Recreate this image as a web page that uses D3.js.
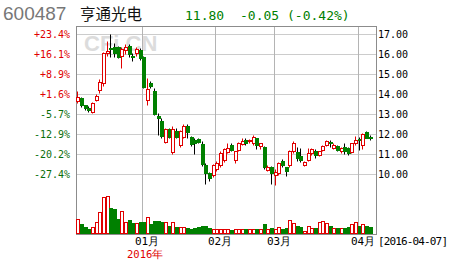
<!DOCTYPE html>
<html>
<head>
<meta charset="utf-8">
<script src="https://cdn.jsdelivr.net/npm/d3@7"></script>
<style>
body { margin: 0; background: #fff; }
text { font-family: "DejaVu Sans Mono", monospace; }
</style>
</head>
<body>
<svg width="455" height="260"></svg>
<script>
// quote header
var stockCode = "600487",
    stockName = "亨通光电",
    lastPrice = "11.80",
    change = "-0.05",
    changePct = "(-0.42%)",
    lastDate = "[2016-04-07]";

// daily candles, 2015-12-08 .. 2016-04-07
var opens = [13.70,13.84,13.46,13.35,13.13,13.75,14.21,14.60,16.05,16.30,
    16.40,16.35,15.92,16.22,16.45,15.92,16.05,16.22,15.90,13.72,
    14.60,14.20,12.95,12.70,11.63,12.28,11.13,12.20,11.46,11.88,
    12.40,11.88,11.72,11.78,11.54,10.50,10.07,9.98,10.30,10.47,
    10.72,11.13,11.50,10.72,11.25,11.52,11.74,11.68,11.55,11.80,
    11.42,11.38,10.25,10.40,9.98,10.05,10.70,10.37,10.47,11.18,
    11.13,10.95,10.47,10.72,11.08,11.20,10.98,11.25,11.47,11.65,
    11.35,11.42,11.18,11.40,11.35,11.13,11.55,11.78,11.48,12.12,11.88];
var highs = [14.20,13.90,13.50,13.45,13.62,14.05,14.79,16.12,16.70,17.04,
    16.55,16.45,16.40,16.54,16.50,16.05,16.40,16.30,15.95,14.80,
    14.70,14.30,13.10,12.80,12.35,12.35,12.45,12.30,12.25,12.55,
    12.52,11.95,11.85,11.82,11.70,10.60,10.15,10.55,10.70,11.20,
    11.35,11.55,11.60,11.20,11.65,11.80,11.80,11.78,12.00,11.85,
    11.60,11.45,10.50,10.45,10.30,10.65,10.78,10.40,11.25,11.70,
    11.38,11.32,10.70,11.35,11.35,11.30,11.20,11.50,11.75,11.72,
    11.55,11.50,11.40,11.55,11.40,11.60,11.95,11.88,12.10,12.20,11.97];
var lows = [13.60,13.40,13.22,13.15,13.08,13.70,14.08,14.45,15.95,15.88,
    15.90,15.80,15.30,16.04,15.90,15.70,15.95,15.75,14.35,13.50,
    14.30,12.98,12.00,11.85,11.55,11.80,11.05,11.85,11.40,11.85,
    11.80,11.45,11.05,11.55,10.45,9.55,9.68,9.90,10.20,10.40,
    10.65,11.10,11.20,10.60,11.20,11.48,11.50,11.60,11.50,11.30,
    11.30,10.30,10.20,9.55,9.48,10.00,10.40,9.95,10.40,11.10,
    10.70,10.62,10.42,10.68,11.00,10.82,10.95,11.20,11.42,11.38,
    11.30,11.20,11.10,11.05,11.00,11.10,11.50,11.25,11.30,11.82,11.75];
var closes = [13.86,13.47,13.30,13.25,13.57,13.95,14.62,16.07,16.18,16.26,
    16.05,15.90,16.28,16.36,16.02,15.90,16.28,15.80,14.38,14.28,
    14.42,13.02,12.80,11.92,12.28,11.90,12.28,11.90,12.17,12.40,
    12.13,11.52,11.60,11.64,10.52,10.08,9.80,10.48,10.56,11.10,
    11.28,11.33,11.25,11.17,11.57,11.70,11.55,11.72,11.87,11.47,
    11.55,10.38,10.40,10.05,10.14,10.60,10.47,10.18,11.20,11.57,
    10.80,10.74,10.62,11.07,11.28,10.97,11.17,11.45,11.67,11.58,
    11.50,11.25,11.32,11.17,11.10,11.55,11.75,11.72,12.05,11.85,11.80];
var volumes = [155,105,68,50,68,117,217,367,380,257,
    247,147,230,120,140,110,107,117,120,167,
    100,130,130,120,117,80,117,70,73,73,
    60,55,60,70,77,80,60,50,50,50,
    50,50,37,45,50,50,50,45,55,55,
    45,103,45,60,50,70,55,57,137,107,
    77,67,30,77,60,60,120,127,110,77,
    63,60,57,60,73,103,117,80,100,77,70];

// axis labels
var priceTicks = [17, 16, 15, 14, 13, 12, 11, 10];
var pctLabels = ["+23.4%", "+16.1%", "+8.9%", "+1.6%", "-5.7%", "-12.9%", "-20.2%", "-27.4%"];
var monthStarts = [18, 38, 54, 77];
var monthLabels = ["01月", "02月", "03月", "04月"];
var yearLabel = "2016年";

var RED = "#e00000", GREEN = "#008000";

var svg = d3.select("svg");

var x = d3.scaleBand().domain(d3.range(opens.length)).range([76.4, 372.4]);
var y = d3.scaleLinear().domain([10, 17]).range([174.5, 34.5]);
var yv = d3.scaleLinear().domain([0, 400]).range([234, 194]);

function left(i) { return Math.round(x(i)); }

// header
svg.append("text").attr("x", 3).attr("y", 20)
    .style("font-family", "Liberation Sans, Arial, sans-serif").style("font-size", "19px")
    .attr("fill", "#777").text(stockCode);
svg.append("text").attr("x", 80).attr("y", 20)
    .style("font-family", "Noto Sans CJK SC").style("font-size", "15.5px")
    .attr("fill", "#111").text(stockName);
svg.selectAll(".quote").data([[185, lastPrice], [240, change], [287, changePct]])
    .enter().append("text")
    .attr("x", d => d[0]).attr("y", 19.5)
    .style("font-size", "13px").attr("fill", GREEN)
    .text(d => d[1]);

// watermark
svg.append("text").attr("x", 84).attr("y", 51)
    .style("font-family", "Liberation Sans, Arial, sans-serif").style("font-size", "22px")
    .style("font-weight", "bold").attr("fill", "#dcdcdc").text("CFi.CN");

// grid
svg.selectAll(".hgrid").data(priceTicks).enter().append("line")
    .attr("x1", 77).attr("x2", 376)
    .attr("y1", d => y(d)).attr("y2", d => y(d))
    .attr("stroke", "#cccccc");
svg.selectAll(".vgrid").data(monthStarts).enter().append("line")
    .attr("x1", d => left(d) + 0.5).attr("x2", d => left(d) + 0.5)
    .attr("y1", 27).attr("y2", 234)
    .attr("stroke", "#b4b4b4");

// frame
svg.append("rect").attr("x", 76.5).attr("y", 26.5).attr("width", 300).attr("height", 208)
    .attr("fill", "none").attr("stroke", "#8c8c8c");

// axis labels
svg.selectAll(".pct").data(pctLabels).enter().append("text")
    .attr("x", 70).attr("y", (d, i) => y(priceTicks[i])).attr("dy", "0.36em")
    .attr("text-anchor", "end").style("font-size", "10px")
    .attr("fill", d => d[0] === "+" ? RED : "#0a6e0a")
    .text(d => d);
svg.selectAll(".price").data(priceTicks).enter().append("text")
    .attr("x", 378).attr("y", d => y(d)).attr("dy", "0.36em")
    .style("font-size", "10px").attr("fill", "#000")
    .text(d => d.toFixed(2));
svg.selectAll(".month").data(monthStarts).enter().append("text")
    .attr("x", d => left(d) - 7).attr("y", 245)
    .style("font-size", "11px").attr("fill", "#000")
    .text((d, i) => monthLabels[i]);
svg.append("text").attr("x", left(monthStarts[0]) - 15).attr("y", 258)
    .style("font-size", "10.5px").attr("fill", RED).text(yearLabel);
svg.append("text").attr("x", 378).attr("y", 245)
    .style("font-size", "11px").attr("fill", "#000")
    .attr("textLength", 70).text(lastDate);

// candles
var idx = d3.range(opens.length);
var up = i => closes[i] >= opens[i];

var candles = svg.append("g").selectAll("g").data(idx).enter().append("g");

candles.append("line")
    .attr("x1", i => left(i) + 1.5).attr("x2", i => left(i) + 1.5)
    .attr("y1", i => Math.round(y(highs[i])) + 0.5)
    .attr("y2", i => Math.round(y(lows[i])) + 0.5)
    .attr("stroke", i => up(i) ? RED : "#000");

candles.append("rect")
    .attr("x", i => left(i) + 0.5)
    .attr("y", i => Math.round(y(Math.max(opens[i], closes[i]))) + 0.5)
    .attr("width", 3)
    .attr("height", i => Math.max(1, Math.round(y(Math.min(opens[i], closes[i]))) - Math.round(y(Math.max(opens[i], closes[i])))))
    .attr("fill", i => up(i) ? "#fff" : GREEN)
    .attr("stroke", i => up(i) ? RED : GREEN);

// volume
svg.append("g").selectAll("rect").data(idx).enter().append("rect")
    .attr("x", i => left(i) + 0.5)
    .attr("y", i => Math.round(yv(volumes[i])) + 0.5)
    .attr("width", 3)
    .attr("height", i => 233.5 - Math.round(yv(volumes[i])) - 0.5)
    .attr("fill", i => up(i) ? "#fff" : GREEN)
    .attr("stroke", i => up(i) ? RED : GREEN);
</script>
</body>
</html>
